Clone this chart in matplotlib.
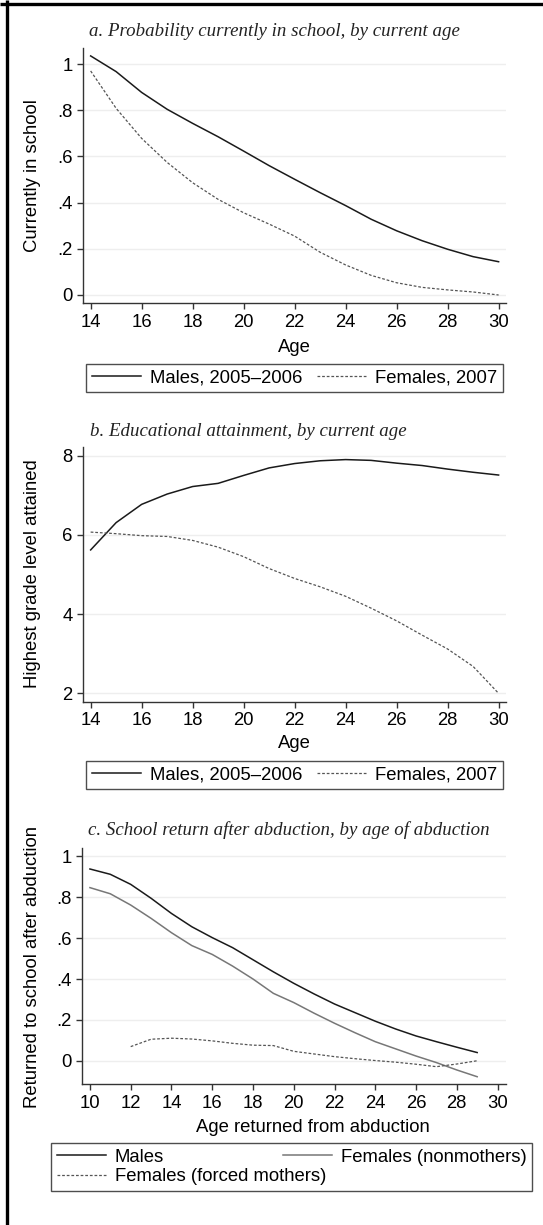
import matplotlib
matplotlib.use("Agg")
import matplotlib.pyplot as plt
from matplotlib.ticker import FuncFormatter
from matplotlib.lines import Line2D

# ---------------- data ----------------
ages_a = [14, 15, 16, 17, 18, 19, 20, 21, 22, 23, 24, 25, 26, 27, 28, 29, 30]
males_school = [1.035, 0.967, 0.877, 0.804, 0.743, 0.685, 0.623, 0.560, 0.501,
                0.443, 0.387, 0.328, 0.278, 0.235, 0.198, 0.166, 0.144]
females_school = [0.970, 0.808, 0.678, 0.574, 0.486, 0.414, 0.356, 0.307, 0.255,
                  0.185, 0.130, 0.085, 0.053, 0.033, 0.022, 0.013, 0.000]

males_grade = [5.62, 6.31, 6.77, 7.03, 7.22, 7.30, 7.50, 7.69, 7.80, 7.87, 7.90,
               7.88, 7.81, 7.75, 7.66, 7.58, 7.51]
females_grade = [6.07, 6.03, 5.98, 5.96, 5.86, 5.69, 5.45, 5.15, 4.90, 4.69, 4.45,
                 4.15, 3.83, 3.47, 3.12, 2.68, 2.00]

ages_c = [10, 11, 12, 13, 14, 15, 16, 17, 18, 19, 20, 21, 22, 23, 24, 25, 26, 27, 28, 29]
males_return = [0.937, 0.911, 0.862, 0.794, 0.720, 0.655, 0.602, 0.553, 0.494, 0.435,
                0.379, 0.327, 0.278, 0.236, 0.194, 0.156, 0.122, 0.094, 0.067, 0.041]
nonmothers_return = [0.846, 0.816, 0.761, 0.696, 0.626, 0.563, 0.520, 0.463, 0.400, 0.330,
                     0.285, 0.233, 0.184, 0.138, 0.094, 0.059, 0.024, -0.008, -0.044, -0.077]
ages_mothers = [12, 13, 14, 15, 16, 17, 18, 19, 20, 21, 22, 23, 24, 25, 26, 27, 28, 29]
mothers_return = [0.070, 0.106, 0.111, 0.107, 0.098, 0.086, 0.077, 0.075, 0.047, 0.034,
                  0.021, 0.011, 0.002, -0.006, -0.016, -0.028, -0.015, 0.001]

xticks_a = [14, 16, 18, 20, 22, 24, 26, 28, 30]
yticks_a = [0, 0.2, 0.4, 0.6, 0.8, 1.0]
yticks_b = [2, 4, 6, 8]
xticks_c = [10, 12, 14, 16, 18, 20, 22, 24, 26, 28, 30]
yticks_c = [0, 0.2, 0.4, 0.6, 0.8, 1.0]

title_a = "a. Probability currently in school, by current age"
title_b = "b. Educational attainment, by current age"
title_c = "c. School return after abduction, by age of abduction"
lab_m = "Males, 2005\u20132006"
lab_f = "Females, 2007"

# ---------------- style ----------------
plt.rcParams["font.family"] = ["Liberation Sans", "DejaVu Sans"]
FS = 13.3
FT = 13.6
SERIF = ["Liberation Serif", "DejaVu Serif"]
C_M = "#1a1a1a"
C_F = "#555555"
C_N = "#777777"
DASH = (0, (2.2, 1.5))
GRID = "#eeeeee"
AX = "#333333"

W, H = 543, 1225
fig = plt.figure(figsize=(W / 100, H / 100), dpi=100)


def fx(px):
    return px / W


def fy(py):
    return 1 - py / H


def rect(l, t, r, b):
    return [fx(l), fy(b), (r - l) / W, (b - t) / H]


def stata_fmt(v, pos):
    s = f"{v:g}"
    if s.startswith("0."):
        s = s[1:]
    elif s.startswith("-0."):
        s = "-" + s[2:]
    return s


def style(ax, xticks, yticks, xlim, ylim):
    ax.set_xlim(*xlim)
    ax.set_ylim(*ylim)
    ax.set_xticks(xticks)
    ax.set_yticks(yticks)
    ax.yaxis.set_major_formatter(FuncFormatter(stata_fmt))
    for s in ("top", "right"):
        ax.spines[s].set_visible(False)
    for s in ("left", "bottom"):
        ax.spines[s].set_color(AX)
        ax.spines[s].set_linewidth(1.0)
    ax.tick_params(direction="out", length=4.5, width=1.0, color=AX,
                   labelsize=FS, pad=3)
    ax.grid(axis="y", color=GRID, linewidth=1.0)
    ax.set_axisbelow(True)


def legend(ax, handles, labels, box, ncol):
    l, t, r, b = box
    leg = ax.legend(handles, labels, ncol=ncol, loc="upper left",
                    bbox_to_anchor=(fx(l), fy(b), (r - l) / W, (b - t) / H),
                    bbox_transform=fig.transFigure, mode="expand",
                    borderaxespad=0, frameon=True, fancybox=False,
                    edgecolor="#222222", fontsize=FS, handlelength=2.7,
                    handletextpad=0.45, borderpad=0.3, labelspacing=0.15,
                    columnspacing=0.6)
    leg.get_frame().set_linewidth(1.0)
    return leg


# ---------------- panel a ----------------
ax1 = fig.add_axes(rect(83, 48.3, 506, 303.3))
style(ax1, xticks_a, yticks_a, (13.70, 30.29), (-0.036, 1.068))
l1, = ax1.plot(ages_a, males_school, color=C_M, lw=1.1)
l2, = ax1.plot(ages_a, females_school, color=C_F, lw=0.9, linestyle=DASH)
ax1.set_xlabel("Age", fontsize=FS)
ax1.xaxis.set_label_coords(fx(294.5), fy(347), transform=fig.transFigure)
ax1.xaxis.label.set_va("center")
ax1.set_ylabel("Currently in school", fontsize=FS)
ax1.yaxis.set_label_coords(fx(33), fy(176), transform=fig.transFigure)
ax1.yaxis.label.set_va("center")
legend(ax1, [l1, l2], [lab_m, lab_f], (86, 364, 503, 393), 2)
fig.text(fx(89), fy(31), title_a, fontsize=FT, family=SERIF, style="italic",
         ha="left", va="center", color="#222222")

# ---------------- panel b ----------------
ax2 = fig.add_axes(rect(83, 447.3, 506, 701.7))
style(ax2, xticks_a, yticks_b, (13.70, 30.29), (1.79, 8.21))
m1, = ax2.plot(ages_a, males_grade, color=C_M, lw=1.1)
m2, = ax2.plot(ages_a, females_grade, color=C_F, lw=0.9, linestyle=DASH)
ax2.set_xlabel("Age", fontsize=FS)
ax2.xaxis.set_label_coords(fx(294.5), fy(744), transform=fig.transFigure)
ax2.xaxis.label.set_va("center")
ax2.set_ylabel("Highest grade level attained", fontsize=FS)
ax2.yaxis.set_label_coords(fx(33), fy(574), transform=fig.transFigure)
ax2.yaxis.label.set_va("center")
legend(ax2, [m1, m2], [lab_m, lab_f], (86, 761, 503, 790), 2)
fig.text(fx(90), fy(431), title_b, fontsize=FT, family=SERIF, style="italic",
         ha="left", va="center", color="#222222")

# ---------------- panel c ----------------
ax3 = fig.add_axes(rect(82.4, 848.3, 505.5, 1084.3))
style(ax3, xticks_c, yticks_c, (9.63, 30.39), (-0.114, 1.038))
n1, = ax3.plot(ages_c, males_return, color=C_M, lw=1.1)
n2, = ax3.plot(ages_c, nonmothers_return, color=C_N, lw=1.1)
n3, = ax3.plot(ages_mothers, mothers_return, color=C_F, lw=0.9, linestyle=DASH)
ax3.set_xlabel("Age returned from abduction", fontsize=FS)
ax3.xaxis.set_label_coords(fx(313), fy(1127), transform=fig.transFigure)
ax3.xaxis.label.set_va("center")
ax3.set_ylabel("Returned to school after abduction", fontsize=FS)
ax3.yaxis.set_label_coords(fx(33), fy(967), transform=fig.transFigure)
ax3.yaxis.label.set_va("center")
legend(ax3, [n1, n3, n2],
       ["Males", "Females (forced mothers)", "Females (nonmothers)"],
       (51, 1143, 532, 1195), 2)
fig.text(fx(88), fy(830), title_c, fontsize=FT, family=SERIF, style="italic",
         ha="left", va="center", color="#222222")

# ---------------- outer border (top and left) ----------------
fig.add_artist(Line2D([0, 1], [fy(3.8), fy(3.8)], transform=fig.transFigure,
                      color="black", lw=2.4, solid_capstyle="butt"))
fig.add_artist(Line2D([fx(6.8), fx(6.8)], [0, 1], transform=fig.transFigure,
                      color="black", lw=2.4, solid_capstyle="butt"))

fig.savefig("out.png", dpi=100)
